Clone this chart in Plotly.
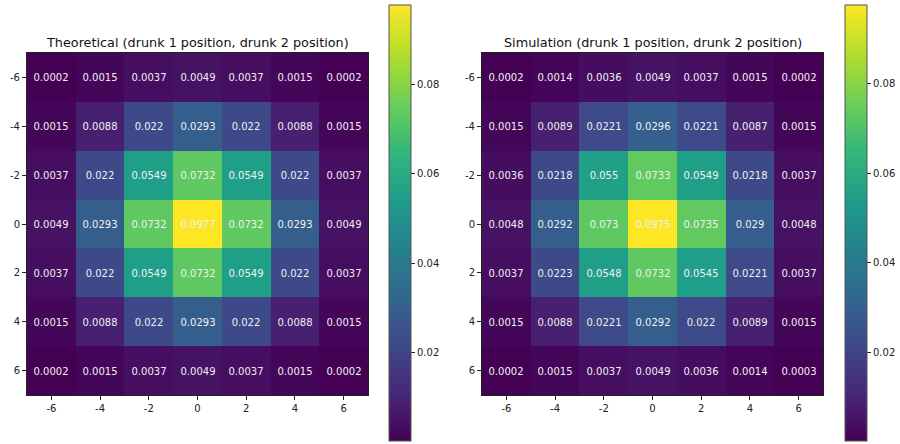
import plotly.graph_objects as go

positions = [-6, -4, -2, 0, 2, 4, 6]
tick_vals = [-6, -4, -2, 0, 2, 4, 6]
cbar_ticks = [0.02, 0.04, 0.06, 0.08]

theoretical = [
    [0.0002, 0.0015, 0.0037, 0.0049, 0.0037, 0.0015, 0.0002],
    [0.0015, 0.0088, 0.022, 0.0293, 0.022, 0.0088, 0.0015],
    [0.0037, 0.022, 0.0549, 0.0732, 0.0549, 0.022, 0.0037],
    [0.0049, 0.0293, 0.0732, 0.0977, 0.0732, 0.0293, 0.0049],
    [0.0037, 0.022, 0.0549, 0.0732, 0.0549, 0.022, 0.0037],
    [0.0015, 0.0088, 0.022, 0.0293, 0.022, 0.0088, 0.0015],
    [0.0002, 0.0015, 0.0037, 0.0049, 0.0037, 0.0015, 0.0002],
]

simulation = [
    [0.0002, 0.0014, 0.0036, 0.0049, 0.0037, 0.0015, 0.0002],
    [0.0015, 0.0089, 0.0221, 0.0296, 0.0221, 0.0087, 0.0015],
    [0.0036, 0.0218, 0.055, 0.0733, 0.0549, 0.0218, 0.0037],
    [0.0048, 0.0292, 0.073, 0.0975, 0.0735, 0.029, 0.0048],
    [0.0037, 0.0223, 0.0548, 0.0732, 0.0545, 0.0221, 0.0037],
    [0.0015, 0.0088, 0.0221, 0.0292, 0.022, 0.0089, 0.0015],
    [0.0002, 0.0015, 0.0037, 0.0049, 0.0036, 0.0014, 0.0003],
]

titles = ["Theoretical (drunk 1 position, drunk 2 position)",
          "Simulation (drunk 1 position, drunk 2 position)"]

W, H = 900, 444
FONT = "DejaVu Sans"

def px_x(p):
    return p / W

def px_y(p):
    return 1 - p / H

fig = go.Figure()

panels = [
    (theoretical, "x", "y", 27, 368, 389),
    (simulation, "x2", "y2", 482, 823, 845),
]

for i, (data, xa, ya, x0, x1, cbx) in enumerate(panels):
    flat = [v for r in data for v in r]
    fig.add_trace(go.Heatmap(
        z=data,
        x=positions,
        y=positions,
        xaxis=xa,
        yaxis=ya,
        text=[[str(v) for v in r] for r in data],
        texttemplate="%{text}",
        textfont=dict(family=FONT, size=10, color="#f0f0f0"),
        colorscale="Viridis",
        zmin=min(flat),
        zmax=max(flat),
        xgap=0, ygap=0,
        hoverinfo="skip",
        colorbar=dict(
            x=px_x(cbx), xanchor="left", xref="paper",
            y=px_y(223), yanchor="middle",
            len=436, lenmode="pixels",
            thickness=22, thicknessmode="pixels",
            outlinewidth=1, outlinecolor="#555555",
            tickvals=cbar_ticks,
            ticktext=[f"{t:.2f}" for t in cbar_ticks],
            ticks="outside", ticklen=4, tickcolor="#222222",
            tickfont=dict(family=FONT, size=10, color="#222222"),
            xpad=0, ypad=0,
        ),
    ))
    fig.add_annotation(
        text=titles[i], x=(px_x(x0) + px_x(x1)) / 2, y=px_y(42),
        xref="paper", yref="paper", showarrow=False,
        xanchor="center", yanchor="middle",
        font=dict(family=FONT, size=12.8, color="#111111"),
    )

axis_common = dict(
    showgrid=False, zeroline=False, showline=True, linecolor="#222222",
    linewidth=1, mirror=True, ticks="outside", ticklen=4, tickcolor="#222222",
    tickvals=tick_vals, ticktext=[str(t) for t in tick_vals],
    tickfont=dict(family=FONT, size=10, color="#222222"),
    automargin=False,
)

fig.update_layout(
    width=W, height=H,
    margin=dict(l=0, r=0, t=0, b=0, autoexpand=False),
    paper_bgcolor="white", plot_bgcolor="white",
    showlegend=False,
    xaxis=dict(domain=[px_x(27), px_x(368)], range=[-7, 7], anchor="y", **axis_common),
    yaxis=dict(domain=[px_y(395), px_y(53)], range=[7, -7], anchor="x", **axis_common),
    xaxis2=dict(domain=[px_x(482), px_x(823)], range=[-7, 7], anchor="y2", **axis_common),
    yaxis2=dict(domain=[px_y(395), px_y(53)], range=[7, -7], anchor="x2", **axis_common),
)

fig.write_html(
    "out.html",
    config={"displayModeBar": False},
    post_script="document.body.style.margin='0';document.body.style.overflow='hidden';",
)
